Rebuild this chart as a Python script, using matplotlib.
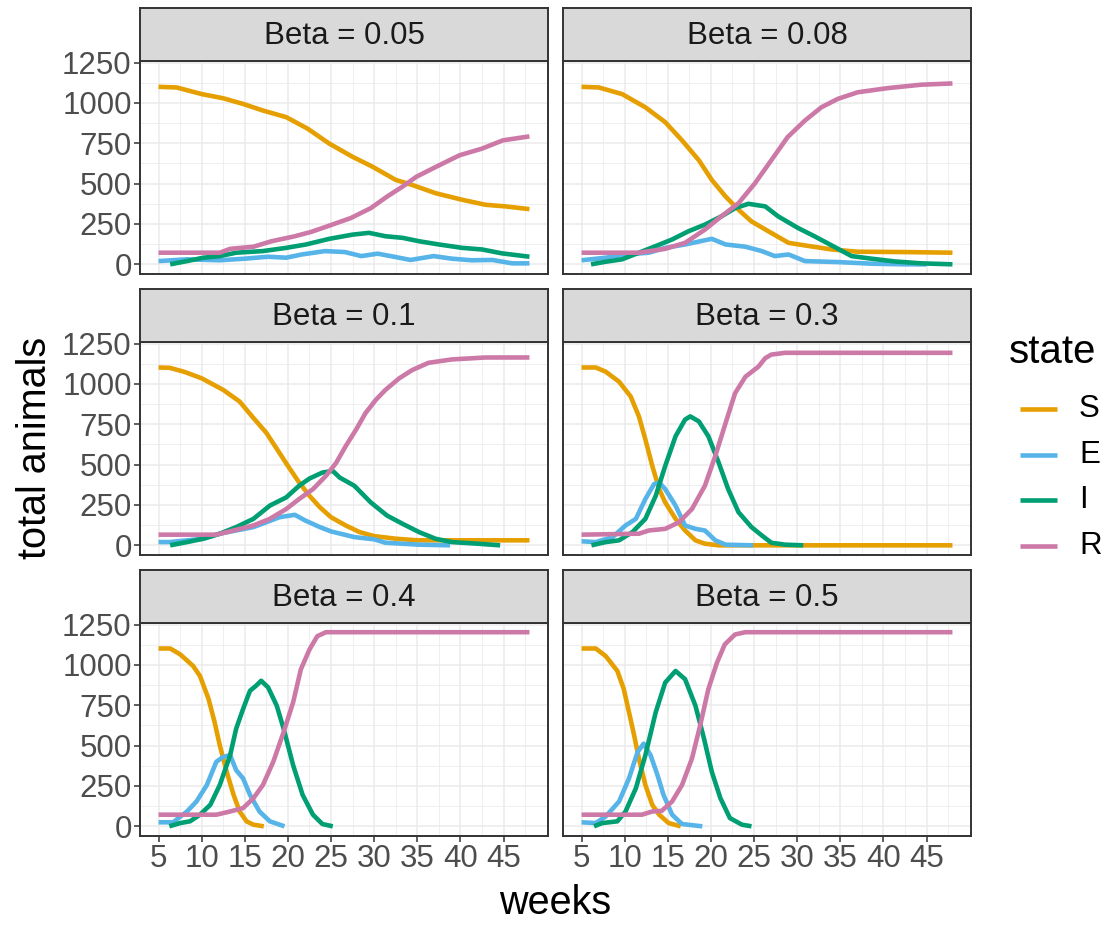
import matplotlib
matplotlib.use("Agg")
import matplotlib.pyplot as plt
from matplotlib.lines import Line2D

plt.rcParams['font.family'] = ['Liberation Sans', 'DejaVu Sans']

# (week, animals) readings for each compartment, one set per beta value
b005_S = [(5, 1100), (7.1, 1096), (10, 1055), (12.5, 1029), (14.8, 994), (17.1, 953), (19.8, 912),
          (22.3, 840), (24.8, 748), (27.5, 666), (29.8, 605), (32.5, 523), (34.4, 492), (37.1, 441),
          (40.2, 400), (42.9, 369), (45.2, 359), (48, 342)]
b005_E = [(5, 20), (8.3, 31), (12.1, 25), (15, 35), (17.7, 47), (19.8, 41), (21.6, 61), (24.3, 82),
          (26.6, 76), (28.5, 51), (30.4, 66), (32.3, 47), (34.2, 27), (36.9, 51), (39, 35), (41.3, 25),
          (43.7, 27), (46, 6), (48, 6)]
b005_I = [(6.35, 0), (8.3, 20), (10.2, 41), (12.1, 51), (14, 72), (17.1, 82), (19.8, 102), (22.1, 123),
          (24.8, 158), (27.5, 184), (29.4, 195), (31.3, 174), (33.3, 164), (35.2, 143), (37.5, 123),
          (40.2, 102), (42.5, 92), (44.8, 68), (48, 47)]
b005_R = [(5, 72), (12.1, 72), (13.3, 96), (16, 109), (18.1, 143), (20.8, 174), (22.7, 201), (24.6, 236),
          (27.3, 287), (29.6, 348), (31.5, 420), (33.3, 482), (34.9, 543), (37.2, 605), (39.9, 676),
          (42.5, 717), (44.9, 768), (48, 793)]

b008_S = [(5, 1100), (7, 1096), (9.7, 1055), (12.4, 973), (14.7, 881), (16.65, 768), (18.6, 645),
          (20.1, 523), (21.7, 420), (23.2, 338), (24.7, 266), (26.65, 205), (29, 133), (30.9, 117),
          (34, 92), (37, 78), (42.4, 76), (48, 72)]
b008_E = [(5, 25), (7.8, 41), (10.1, 61), (12.8, 72), (14.7, 102), (17, 123), (20.1, 158), (21.7, 123),
          (24, 109), (25.9, 82), (27.4, 51), (29, 61), (30.9, 20), (34.7, 14), (38.6, 4), (42.4, 0),
          (45, 0)]
b008_I = [(6.1, 0), (7.8, 16), (9.7, 31), (11.65, 72), (13.6, 113), (15.5, 154), (17.4, 205),
          (19.3, 246), (21.2, 297), (22.8, 348), (24.35, 375), (26.3, 359), (27.8, 297), (30.1, 225),
          (32, 174), (34, 117), (36.3, 51), (38.6, 35), (41.3, 18), (44.35, 6), (48, 0)]
b008_R = [(5, 72), (11.65, 72), (14.7, 96), (17, 133), (19.3, 215), (21.2, 297), (23.2, 379),
          (25.1, 502), (27, 645), (28.9, 789), (30.9, 891), (32.8, 973), (34.7, 1025), (37, 1066),
          (40.5, 1092), (44.35, 1113), (48, 1121)]

b01_S = [(5, 1102), (6.3, 1100), (8, 1075), (10, 1035), (12.5, 963), (14.4, 891), (16, 789), (17.5, 697),
         (19, 574), (20, 492), (21.3, 389), (22.5, 307), (23.7, 236), (25, 174), (26.7, 123),
         (28.3, 82), (30, 57), (32.5, 41), (35, 31), (48, 31)]
b01_E = [(5, 20), (6.3, 20), (10.2, 41), (12.1, 72), (14, 92), (16, 113), (17.5, 143), (19, 174),
         (20.8, 189), (22, 154), (23.7, 113), (25, 86), (27.7, 51), (30, 37), (31.3, 16), (35.2, 4),
         (38.8, 0)]
b01_I = [(6.35, 0), (8.3, 20), (10.2, 41), (12.1, 72), (14, 113), (16, 164), (17.9, 246), (19.8, 297),
         (21.3, 369), (22.5, 414), (24, 451), (25.2, 461), (26, 420), (27.7, 369), (29.6, 266),
         (31.5, 184), (33.3, 133), (35.2, 82), (37.1, 41), (39, 20), (42, 10), (44.6, 0)]
b01_R = [(5, 66), (11.7, 66), (13.7, 92), (16, 123), (17.9, 164), (19.8, 225), (21.3, 287), (22.9, 348),
         (24.4, 430), (25.6, 512), (26.7, 615), (27.9, 717), (29, 820), (30.2, 902), (31.3, 963),
         (32.9, 1035), (34.4, 1086), (36.3, 1131), (39, 1152), (42.9, 1164), (48, 1164)]

b03_S = [(5, 1102), (6.65, 1102), (7.8, 1076), (9.35, 1014), (10.7, 922), (11.65, 799), (12.4, 656),
         (13.2, 492), (14, 348), (14.7, 266), (15.9, 164), (17, 92), (18.2, 31), (19.3, 10),
         (20.9, 0), (48, 0)]
b03_E = [(5, 25), (6.65, 20), (8.6, 51), (10.1, 123), (11.3, 164), (12.4, 287), (13.4, 379), (14, 389),
         (14.7, 348), (15.9, 246), (17, 123), (18.2, 102), (19.3, 92), (20.5, 31), (21.7, 4), (24.9, 0)]
b03_I = [(6.15, 0), (7.8, 20), (9.35, 31), (10.9, 82), (12.4, 164), (13.6, 307), (14.7, 492),
         (15.9, 676), (17, 779), (17.6, 799), (18.6, 768), (19.7, 676), (20.9, 512), (22, 348),
         (23.2, 205), (24.7, 113), (25.9, 61), (27, 16), (28.6, 4), (30.7, 0)]
b03_R = [(5, 66), (11.65, 72), (12.8, 92), (14.7, 102), (16.3, 143), (17.8, 225), (19.3, 369),
         (20.5, 553), (21.7, 758), (22.8, 943), (24, 1045), (25.5, 1107), (26.3, 1160), (27, 1182),
         (28.6, 1193), (48, 1193)]

b04_S = [(5, 1102), (6.35, 1102), (7.5, 1066), (9, 994), (9.8, 932), (10.8, 789), (11.5, 645),
         (12.1, 502), (12.9, 338), (13.7, 195), (14.4, 92), (15.2, 31), (16, 10), (17.2, 0)]
b04_E = [(5, 25), (6.7, 25), (8.3, 92), (9.4, 154), (10.6, 256), (11.7, 400), (12.5, 430), (13.3, 441),
         (14, 348), (14.8, 297), (15.6, 195), (16.7, 92), (17.9, 31), (19.6, 0)]
b04_I = [(6.25, 0), (7.5, 20), (8.65, 31), (9.8, 72), (11, 133), (12.1, 256), (13.3, 441), (14, 605),
         (14.8, 727), (15.6, 840), (16.3, 871), (16.9, 902), (17.7, 861), (18.7, 748), (19.5, 605),
         (20.6, 379), (21.7, 195), (22.9, 72), (24, 14), (25.2, 0)]
b04_R = [(5, 72), (11.7, 72), (13.3, 92), (14.8, 113), (16, 174), (17.1, 256), (18.3, 400), (19.5, 584),
         (20.6, 768), (21.5, 973), (22.5, 1096), (23.4, 1178), (24.4, 1203), (48, 1203)]

b05_S = [(5, 1102), (6.65, 1102), (7.8, 1055), (9.15, 963), (9.9, 850), (10.5, 707), (11.1, 563),
         (11.65, 420), (12.4, 256), (13.2, 133), (14, 72), (15.1, 20), (16.5, 0)]
b05_E = [(5, 25), (6.65, 20), (7.8, 61), (9.35, 154), (10.5, 297), (11.5, 461), (12.2, 512), (13, 441),
         (13.8, 318), (14.5, 195), (15.5, 72), (16.65, 14), (19, 0)]
b05_I = [(6.45, 0), (7.4, 20), (9.15, 31), (10.1, 92), (11.3, 236), (12.4, 441), (13.6, 707),
         (14.7, 891), (15.9, 963), (17, 912), (18.2, 748), (19.2, 543), (20.1, 338), (21.1, 174),
         (22.2, 51), (23.6, 10), (24.7, 0)]
b05_R = [(5, 72), (12, 72), (13.2, 92), (14.3, 96), (15.5, 154), (16.65, 256), (17.8, 420), (18.75, 625),
         (19.7, 850), (20.7, 1014), (21.6, 1127), (22.8, 1189), (24, 1203), (48, 1203)]

betas = ['0.05', '0.08', '0.1', '0.3', '0.4', '0.5']
panels = [
    [b005_S, b005_E, b005_I, b005_R],
    [b008_S, b008_E, b008_I, b008_R],
    [b01_S, b01_E, b01_I, b01_R],
    [b03_S, b03_E, b03_I, b03_R],
    [b04_S, b04_E, b04_I, b04_R],
    [b05_S, b05_E, b05_I, b05_R],
]
states = ['S', 'E', 'I', 'R']
colors = ['#E69F00', '#56B4E9', '#009E73', '#CC79A7']

x_ticks = [5, 10, 15, 20, 25, 30, 35, 40, 45]
x_minor = [7.5, 12.5, 17.5, 22.5, 27.5, 32.5, 37.5, 42.5, 47.5]
y_ticks = [0, 250, 500, 750, 1000, 1250]
y_minor = [125, 375, 625, 875, 1125]

W, H = 1110, 925
fig = plt.figure(figsize=(W / 100, H / 100), dpi=100)

col_left = [140, 563]
plot_top = [61, 342, 623]
pw, ph, sh = 408, 213, 53

for k, (beta, series) in enumerate(zip(betas, panels)):
    row, col = divmod(k, 2)
    l, t = col_left[col], plot_top[row]
    ax = fig.add_axes([l / W, 1 - (t + ph) / H, pw / W, ph / H])
    for pts, c in zip(series, colors):
        xs = [p[0] for p in pts]
        ys = [p[1] for p in pts]
        ax.plot(xs, ys, color=c, lw=3.3, solid_capstyle='butt', solid_joinstyle='round', zorder=3)
    ax.set_xlim(2.85, 50.15)
    ax.set_ylim(-60, 1260)
    ax.set_xticks(x_ticks)
    ax.set_xticks(x_minor, minor=True)
    ax.set_yticks(y_ticks)
    ax.set_yticks(y_minor, minor=True)
    ax.grid(which='major', color='#EBEBEB', lw=1.1, zorder=0)
    ax.grid(which='minor', color='#EBEBEB', lw=0.55, zorder=0)
    ax.set_axisbelow(True)
    for s in ax.spines.values():
        s.set_color('#333333')
        s.set_linewidth(1.4)
    ax.tick_params(which='minor', length=0)
    ax.tick_params(which='major', length=4, width=1.1, color='#333333',
                   labelsize=22.5, labelcolor='#4D4D4D', pad=2)
    if col == 1:
        ax.tick_params(axis='y', left=False, labelleft=False)
    if row < 2:
        ax.tick_params(axis='x', bottom=False, labelbottom=False)

    # facet strip
    sax = fig.add_axes([l / W, 1 - t / H, pw / W, sh / H])
    sax.set_facecolor('#D9D9D9')
    sax.set_xticks([])
    sax.set_yticks([])
    for s in sax.spines.values():
        s.set_color('#333333')
        s.set_linewidth(1.4)
    sax.text(0.5, 0.47, f'Beta = {beta}', transform=sax.transAxes, ha='center', va='center',
             fontsize=22.5, color='#1A1A1A')

fig.text(555 / W, 1 - 903 / H, 'weeks', ha='center', va='center', fontsize=28.5)
fig.text(35 / W, 1 - 448 / H, 'total animals', ha='center', va='center', rotation=90, fontsize=28.5)

# legend for the state colours, laid out by hand to the right of the panels
fig.text(1009 / W, 1 - 352 / H, 'state', ha='left', va='center', fontsize=29)
key_y = [409, 455, 500, 546]
for name, c, ky in zip(states, colors, key_y):
    fig.add_artist(Line2D([1020 / W, 1057 / W], [1 - ky / H, 1 - ky / H], color=c, lw=3.3,
                          solid_capstyle='butt'))
    fig.text(1079 / W, 1 - ky / H, name, ha='left', va='center', fontsize=22.5)

fig.savefig('out.png', dpi=100, facecolor='white')
